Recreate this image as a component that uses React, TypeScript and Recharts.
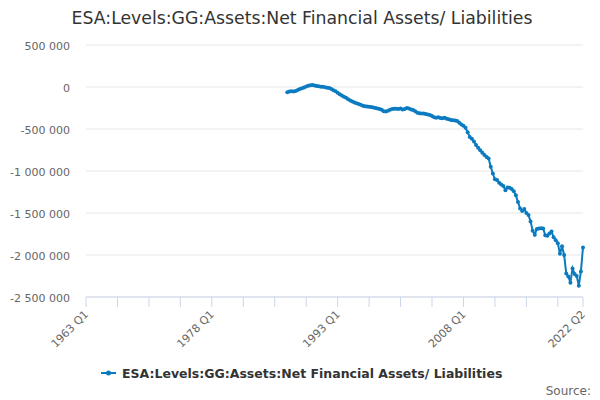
import { CartesianGrid, Line, LineChart, XAxis, YAxis } from 'recharts'

const TITLE = 'ESA:Levels:GG:Assets:Net Financial Assets/ Liabilities'
const LINE_COLOR = '#0b7bc1'

// x axis runs quarterly from 1963 Q1 (index 0) to 2022 Q2 (index 237)
const AXIS_START_YEAR = 1963
const AXIS_LAST_INDEX = 237
// the series itself starts in 1987 Q1
const SERIES_START_INDEX = 96

const netFinancialAssets = [
  -62000, -55000, -50000, -55000, -48000, -35000, -25000, -15000, -5000, 5000,
  15000, 22000, 25000, 18000, 12000, 8000, 2000, 4000, -2000, -8000,
  -12000, -25000, -38000, -52000, -68000, -85000, -100000, -115000, -128000, -145000,
  -160000, -172000, -185000, -193000, -203000, -212000, -222000, -228000, -232000, -235000,
  -238000, -244000, -250000, -256000, -262000, -272000, -288000, -292000, -282000, -270000,
  -263000, -258000, -260000, -262000, -256000, -268000, -262000, -250000, -255000, -268000,
  -275000, -290000, -308000, -312000, -314000, -316000, -320000, -326000, -332000, -345000,
  -360000, -366000, -360000, -368000, -372000, -366000, -378000, -385000, -393000, -395000,
  -398000, -405000, -425000, -445000, -462000, -485000, -540000, -595000, -615000, -648000,
  -690000, -722000, -752000, -782000, -810000, -832000, -850000, -950000, -1030000, -1099000,
  -1108000, -1140000, -1162000, -1180000, -1228000, -1195000, -1200000, -1215000, -1240000, -1290000,
  -1370000, -1445000, -1475000, -1452000, -1500000, -1525000, -1600000, -1710000, -1758000, -1690000,
  -1685000, -1682000, -1685000, -1765000, -1770000, -1745000, -1720000, -1790000, -1825000, -1860000,
  -1985000, -1895000, -2000000, -2220000, -2255000, -2330000, -2160000, -2225000, -2250000, -2365000,
  -2195000, -1910000,
]

const xTicks = [0, 15, 30, 45, 60, 75, 90, 105, 120, 135, 150, 165, 180, 195, 210, 225, 237]
const xTickLabels: Record<number, string> = {
  0: '1963 Q1',
  60: '1978 Q1',
  120: '1993 Q1',
  180: '2008 Q1',
  237: '2022 Q2',
}
const yTicks = [500000, 0, -500000, -1000000, -1500000, -2000000, -2500000]

function quarterLabel(i: number) {
  return `${AXIS_START_YEAR + Math.floor(i / 4)} Q${(i % 4) + 1}`
}

const data = netFinancialAssets.map((v, k) => ({
  i: SERIES_START_INDEX + k,
  quarter: quarterLabel(SERIES_START_INDEX + k),
  v,
}))

function spaced(n: number) {
  return String(n).replace(/\B(?=(\d{3})+(?!\d))/g, ' ')
}

function XTick({ x, y, payload }: any) {
  const label = xTickLabels[payload.value]
  if (!label) return null
  const tx = x + 3
  const ty = y + 6
  return (
    <text
      x={tx}
      y={ty}
      transform={`rotate(-45 ${tx} ${ty})`}
      textAnchor="end"
      fontSize={11}
      fill="#666666"
    >
      {label}
    </text>
  )
}

export default function App() {
  return (
    <div
      style={{
        position: 'absolute',
        left: 0,
        top: 0,
        width: 600,
        height: 400,
        background: '#ffffff',
        fontFamily: '"DejaVu Sans", sans-serif',
      }}
    >
      <LineChart
        width={600}
        height={400}
        data={data}
        margin={{ top: 45, right: 17, bottom: 0, left: 0 }}
      >
        <CartesianGrid vertical={false} stroke="#e6e6e6" />
        <XAxis
          dataKey="i"
          type="number"
          domain={[0, AXIS_LAST_INDEX]}
          ticks={xTicks}
          interval={0}
          height={103}
          tickSize={10}
          tickMargin={2}
          stroke="#ccd6eb"
          tickLine={{ stroke: '#ccd6eb' }}
          tick={<XTick />}
        />
        <YAxis
          type="number"
          domain={[-2500000, 500000]}
          ticks={yTicks}
          width={86}
          axisLine={false}
          tickLine={false}
          tickSize={0}
          tickMargin={16}
          tickFormatter={spaced}
          tick={{ fontSize: 11, fill: '#666666', dy: 1 }}
        />
        <Line
          type="linear"
          dataKey="v"
          stroke={LINE_COLOR}
          strokeWidth={2}
          dot={{ r: 2, fill: LINE_COLOR, stroke: LINE_COLOR, strokeWidth: 0 }}
          activeDot={false}
          isAnimationActive={false}
        />
      </LineChart>
      <svg
        width={600}
        height={400}
        style={{ position: 'absolute', left: 0, top: 0, pointerEvents: 'none' }}
      >
        <text x={302} y={24} textAnchor="middle" fontSize={17.3} fill="#333333">
          {TITLE}
        </text>
        <line x1={101} y1={373} x2={116} y2={373} stroke={LINE_COLOR} strokeWidth={2} />
        <circle cx={108.5} cy={373} r={2.5} fill={LINE_COLOR} />
        <text x={122} y={377.5} fontSize={12.5} fontWeight="bold" fill="#333333">
          {TITLE}
        </text>
        <text x={591} y={395} textAnchor="end" fontSize={12} fill="#666666">
          Source:
        </text>
      </svg>
    </div>
  )
}
